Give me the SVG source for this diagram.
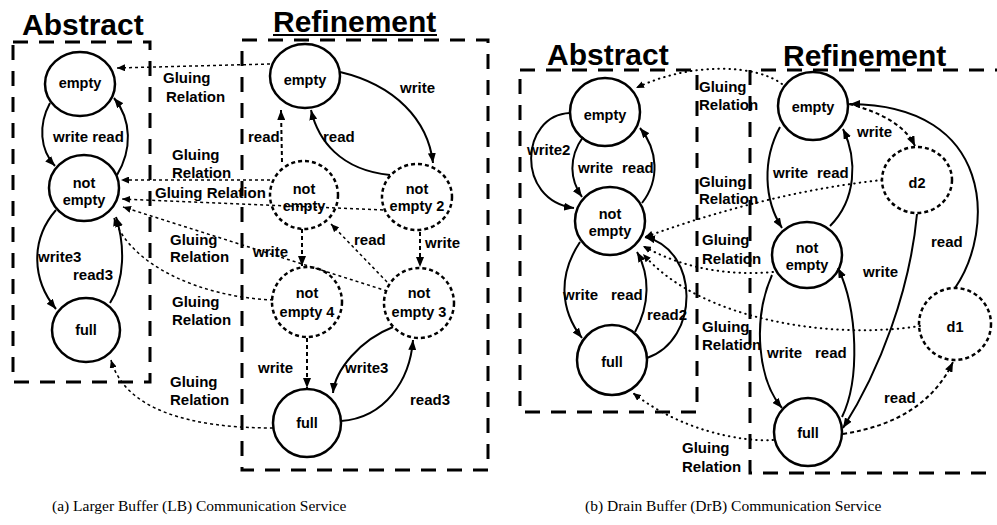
<svg xmlns="http://www.w3.org/2000/svg" width="997" height="525" viewBox="0 0 997 525">
<style>
.box{fill:none;stroke:#000;stroke-width:3;stroke-dasharray:15 11}
.node{fill:none;stroke:#000;stroke-width:2.5}
.dnode{fill:none;stroke:#000;stroke-width:2.5;stroke-dasharray:4 3}
.edge{fill:none;stroke:#000;stroke-width:2;marker-end:url(#ah)}
.dedge{fill:none;stroke:#000;stroke-width:2;stroke-dasharray:4 3;marker-end:url(#ah)}
.glue{fill:none;stroke:#000;stroke-width:1.5;stroke-dasharray:3 3;marker-end:url(#gh)}
.glueb{fill:none;stroke:#000;stroke-width:2;stroke-dasharray:0.5 5;stroke-linecap:round;marker-end:url(#gh)}
text{font-family:"Liberation Sans",Arial,sans-serif;font-weight:bold;font-size:15px;fill:#000}
.nt{text-anchor:middle;font-size:14.5px}
.title{font-size:30px}
.cap{font-family:"Liberation Serif","Times New Roman",serif;font-weight:normal;font-size:15.5px}
</style>
<defs>
<marker id="ah" markerUnits="userSpaceOnUse" markerWidth="11" markerHeight="8" refX="10" refY="4" orient="auto"><path d="M0,0 L10,4 L0,8 z" fill="#000"/></marker>
<marker id="gh" markerUnits="userSpaceOnUse" markerWidth="9" markerHeight="7" refX="8" refY="3.5" orient="auto"><path d="M0,0 L8,3.5 L0,7 z" fill="#000"/></marker>
</defs>
<rect width="997" height="525" fill="#fff"/>

<!-- (a) boxes and titles -->
<g id="a-frames">
<rect class="box" x="13" y="42" width="137" height="340"/>
<rect class="box" x="242" y="40" width="246" height="430"/>
<text class="title" x="22" y="35">Abstract</text>
<text class="title" x="273" y="32">Refinement</text>
<line x1="273" y1="35" x2="437" y2="35" stroke="#000" stroke-width="2"/>
</g>

<!-- (a) connectors -->
<g id="a-connectors">
<path class="edge" d="M50,103 C38,125 40,150 55,166"/>
<path class="edge" d="M117,175 C132,150 132,120 114,98"/>
<path class="edge" d="M56,210 C30,240 32,280 56,309"/>
<path class="edge" d="M110,303 C125,280 125,245 116,217"/>
<path class="edge" d="M340,72 C395,85 428,120 433,163"/>
<path class="edge" d="M390,175 C340,170 318,140 311,110"/>
<path class="dedge" d="M282,162 L281,110"/>
<path class="dedge" d="M420,232 L420,267"/>
<path class="glue" d="M387,282 L331,224"/>
<path class="dedge" d="M302,229 L302,266"/>
<path class="dedge" d="M307,338 L307,388"/>
<path class="edge" d="M341,421 C385,418 410,380 413,340"/>
<path class="edge" d="M393,327 C360,340 335,370 333,393"/>
<path class="glue" d="M270,64 L117,68"/>
<path class="glue" d="M270,180 L121,180"/>
<path class="glue" d="M383,210 L122,199"/>
<path class="glue" d="M387,291 L123,207"/>
<path class="glue" d="M273,300 C200,297 130,265 114,218"/>
<path class="glue" d="M273,428 C190,428 125,410 111,360"/>
</g>

<!-- (a) labels -->
<g id="a-labels">
<text x="53" y="142">write read</text>
<text x="38" y="262">write3</text>
<text x="73" y="280">read3</text>
<text x="400" y="93">write</text>
<text x="323" y="142">read</text>
<text x="248" y="142">read</text>
<text x="425" y="248">write</text>
<text x="354" y="245">read</text>
<text x="253" y="257">write</text>
<text x="258" y="373">write</text>
<text x="345" y="373">write3</text>
<text x="410" y="405">read3</text>
<text x="163" y="83">Gluing</text><text x="166" y="102">Relation</text>
<text x="172" y="160">Gluing</text><text x="172" y="178">Relation</text>
<text x="155" y="198">Gluing Relation</text>
<text x="170" y="245">Gluing</text><text x="170" y="262">Relation</text>
<text x="172" y="307">Gluing</text><text x="172" y="325">Relation</text>
<text x="170" y="387">Gluing</text><text x="170" y="405">Relation</text>
</g>

<!-- (a) nodes -->
<g id="a-abs-empty"><ellipse class="node" cx="80" cy="84" rx="35" ry="32"/><text class="nt" x="80" y="88">empty</text></g>
<g id="a-abs-notempty"><ellipse class="node" cx="84" cy="188" rx="35" ry="33"/><text class="nt" x="84" y="188">not</text><text class="nt" x="84" y="205">empty</text></g>
<g id="a-abs-full"><ellipse class="node" cx="86" cy="330" rx="34" ry="32"/><text class="nt" x="86" y="335">full</text></g>
<g id="a-ref-empty"><ellipse class="node" cx="305" cy="76" rx="35" ry="32"/><text class="nt" x="305" y="85">empty</text></g>
<g id="a-ref-notempty"><ellipse class="dnode" cx="304" cy="195" rx="34" ry="34"/><text class="nt" x="304" y="194">not</text><text class="nt" x="304" y="211">empty</text></g>
<g id="a-ref-notempty2"><ellipse class="dnode" cx="417" cy="197" rx="35" ry="33"/><text class="nt" x="417" y="194">not</text><text class="nt" x="417" y="211">empty 2</text></g>
<g id="a-ref-notempty4"><ellipse class="dnode" cx="307" cy="302" rx="35" ry="35"/><text class="nt" x="307" y="298">not</text><text class="nt" x="307" y="317">empty 4</text></g>
<g id="a-ref-notempty3"><ellipse class="dnode" cx="419" cy="303" rx="35" ry="35"/><text class="nt" x="419" y="298">not</text><text class="nt" x="419" y="317">empty 3</text></g>
<g id="a-ref-full"><ellipse class="node" cx="307" cy="423" rx="34" ry="34"/><text class="nt" x="307" y="428">full</text></g>

<!-- (b) boxes and titles -->
<g id="b-frames">
<rect class="box" x="520" y="70" width="177" height="342"/>
<path class="box" d="M1010,70 L750,70 L750,473 L1010,473"/>
<text class="title" x="547" y="65">Abstract</text>
<text class="title" x="783" y="66">Refinement</text>
</g>

<!-- (b) connectors -->
<g id="b-connectors">
<path class="edge" d="M570,113 C520,115 515,200 574,208"/>
<path class="edge" d="M583,137 C568,158 570,180 582,197"/>
<path class="edge" d="M642,203 C660,180 658,150 640,128"/>
<path class="edge" d="M580,242 C558,275 560,310 582,338"/>
<path class="edge" d="M635,332 C650,305 650,275 637,252"/>
<path class="edge" d="M647,358 C700,340 700,250 645,237"/>
<path class="edge" d="M780,127 C762,160 764,200 782,228"/>
<path class="edge" d="M830,226 C856,200 858,160 843,129"/>
<path class="dedge" d="M849,104 C880,112 905,125 915,146"/>
<path class="edge" d="M955,288 C995,230 995,105 850,104"/>
<path class="edge" d="M917,214 C910,290 880,370 843,428"/>
<path class="edge" d="M772,275 C752,320 758,380 782,408"/>
<path class="edge" d="M842,417 C860,380 858,310 838,268"/>
<path class="dedge" d="M843,434 C900,425 935,400 953,362"/>
<path class="glueb" d="M782,84 C755,64 690,62 636,88"/>
<path class="glueb" d="M882,180 Q770,192 645,237"/>
<path class="glueb" d="M773,272 Q700,278 643,246"/>
<path class="glueb" d="M920,326 C830,340 700,320 643,254"/>
<path class="glueb" d="M773,440 C740,442 680,430 633,393"/>
</g>

<!-- (b) labels -->
<g id="b-labels">
<text x="527" y="155">write2</text>
<text x="578" y="173">write</text><text x="622" y="173">read</text>
<text x="563" y="300">write</text><text x="611" y="300">read</text>
<text x="647" y="320">read2</text>
<text x="773" y="178">write</text><text x="817" y="178">read</text>
<text x="857" y="137">write</text>
<text x="931" y="247">read</text>
<text x="863" y="277">write</text>
<text x="767" y="358">write</text><text x="815" y="358">read</text>
<text x="884" y="403">read</text>
<text x="699" y="92">Gluing</text><text x="699" y="110">Relation</text>
<text x="699" y="187">Gluing</text><text x="699" y="204">Relation</text>
<text x="702" y="245">Gluing</text><text x="702" y="264">Relation</text>
<text x="702" y="332">Gluing</text><text x="702" y="350">Relation</text>
<text x="682" y="453">Gluing</text><text x="682" y="472">Relation</text>
</g>

<!-- (b) nodes -->
<g id="b-abs-empty"><ellipse class="node" cx="605" cy="112" rx="35" ry="34"/><text class="nt" x="605" y="120">empty</text></g>
<g id="b-abs-notempty"><ellipse class="node" cx="610" cy="221" rx="35" ry="34"/><text class="nt" x="610" y="219">not</text><text class="nt" x="610" y="236">empty</text></g>
<g id="b-abs-full"><ellipse class="node" cx="612" cy="360" rx="35" ry="35"/><text class="nt" x="612" y="367">full</text></g>
<g id="b-ref-empty"><ellipse class="node" cx="813" cy="106" rx="35" ry="34"/><text class="nt" x="813" y="112">empty</text></g>
<g id="b-ref-d2"><ellipse class="dnode" cx="917" cy="180" rx="35" ry="33"/><text class="nt" x="917" y="188">d2</text></g>
<g id="b-ref-notempty"><ellipse class="node" cx="807" cy="255" rx="35" ry="33"/><text class="nt" x="807" y="253">not</text><text class="nt" x="807" y="270">empty</text></g>
<g id="b-ref-d1"><ellipse class="dnode" cx="955" cy="324" rx="36" ry="36"/><text class="nt" x="955" y="332">d1</text></g>
<g id="b-ref-full"><ellipse class="node" cx="808" cy="432" rx="34" ry="34"/><text class="nt" x="808" y="438">full</text></g>

<g id="captions">
<text class="cap" x="52" y="511">(a) Larger Buffer (LB) Communication Service</text>
<text class="cap" x="585" y="511">(b) Drain Buffer (DrB) Communication Service</text>
</g>
</svg>
